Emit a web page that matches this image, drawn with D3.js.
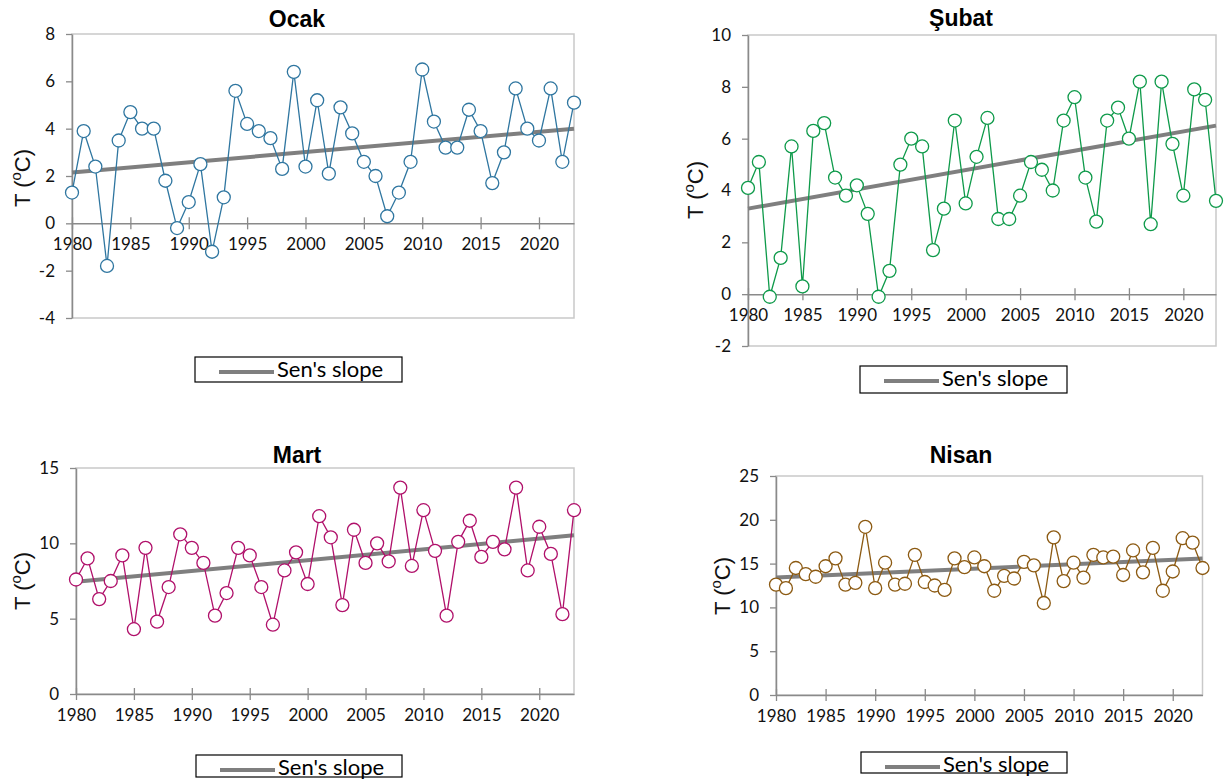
<!DOCTYPE html>
<html>
<head>
<meta charset="utf-8">
<script src="https://cdn.jsdelivr.net/npm/d3@7"></script>
<style>
  html, body { margin: 0; padding: 0; background: #fff; }
  svg { display: block; }
</style>
</head>
<body>
<svg id="chart" width="1231" height="781"></svg>
<script>
// Monthly mean temperature, 1980–2023
const years = d3.range(1980, 2024);
const xTickYears = [1980, 1985, 1990, 1995, 2000, 2005, 2010, 2015, 2020];

const ocak = [1.3, 3.9, 2.4, -1.8, 3.5, 4.7, 4.0, 4.0, 1.8, -0.2,
              0.9, 2.5, -1.2, 1.1, 5.6, 4.2, 3.9, 3.6, 2.3, 6.4,
              2.4, 5.2, 2.1, 4.9, 3.8, 2.6, 2.0, 0.3, 1.3, 2.6,
              6.5, 4.3, 3.2, 3.2, 4.8, 3.9, 1.7, 3.0, 5.7, 4.0,
              3.5, 5.7, 2.6, 5.1];
const subat = [4.1, 5.1, -0.1, 1.4, 5.7, 0.3, 6.3, 6.6, 4.5, 3.8,
               4.2, 3.1, -0.1, 0.9, 5.0, 6.0, 5.7, 1.7, 3.3, 6.7,
               3.5, 5.3, 6.8, 2.9, 2.9, 3.8, 5.1, 4.8, 4.0, 6.7,
               7.6, 4.5, 2.8, 6.7, 7.2, 6.0, 8.2, 2.7, 8.2, 5.8,
               3.8, 7.9, 7.5, 3.6];
const mart = [7.6, 9.0, 6.3, 7.5, 9.2, 4.3, 9.7, 4.8, 7.1, 10.6,
              9.7, 8.7, 5.2, 6.7, 9.7, 9.2, 7.1, 4.6, 8.2, 9.4,
              7.3, 11.8, 10.4, 5.9, 10.9, 8.7, 10.0, 8.8, 13.7, 8.5,
              12.2, 9.5, 5.2, 10.1, 11.5, 9.1, 10.1, 9.6, 13.7, 8.2,
              11.1, 9.3, 5.3, 12.2];
const nisan = [12.6, 12.2, 14.5, 13.8, 13.5, 14.7, 15.6, 12.6, 12.8, 19.2,
               12.2, 15.1, 12.6, 12.7, 16.0, 12.9, 12.5, 12.0, 15.6, 14.6,
               15.7, 14.7, 11.9, 13.6, 13.3, 15.2, 14.8, 10.5, 18.0, 13.0,
               15.1, 13.4, 16.0, 15.7, 15.8, 13.7, 16.5, 14.0, 16.8, 11.9,
               14.1, 17.9, 17.4, 14.5];

// Sen's slope trend: value at 1980 and slope per year
const senIntercept = [2.15, 3.3, 7.45, 13.4];
const senSlope = [0.043, 0.0745, 0.0716, 0.0507];

const titles = ["Ocak", "Şubat", "Mart", "Nisan"];
const seriesColors = ["#2f76a0", "#0e9a4a", "#b0106a", "#8c5a12"];
const yTickLabels = [
  ["-4", "-2", "0", "2", "4", "6", "8"],
  ["-2", "0", "2", "4", "6", "8", "10"],
  ["0", "5", "10", "15"],
  ["0", "5", "10", "15", "20", "25"]
];
const legendLabel = "Sen's slope";

// Panel layout
const panels = [
  { data: ocak, yDomain: [-4, 8], left: 72, right: 574, top: 34, bottom: 318,
    titleX: 297, titleY: 27, yTitleX: 22, yTitleY: 178,
    legend: { x: 195, y: 357, w: 207, h: 25 } },
  { data: subat, yDomain: [-2, 10], left: 748, right: 1216, top: 35, bottom: 346,
    titleX: 961, titleY: 26, yTitleX: 695, yTitleY: 190,
    legend: { x: 860, y: 366, w: 207, h: 27 } },
  { data: mart, yDomain: [0, 15], left: 76, right: 574, top: 468, bottom: 694,
    titleX: 297, titleY: 463, yTitleX: 22, yTitleY: 581,
    legend: { x: 196, y: 755, w: 206, h: 22 } },
  { data: nisan, yDomain: [0, 25], left: 776, right: 1202.5, top: 476, bottom: 695,
    titleX: 961, titleY: 463, yTitleX: 722, yTitleY: 586,
    legend: { x: 861, y: 752, w: 206, h: 21 } }
];

const svg = d3.select("#chart");
svg.append("rect").attr("width", 1231).attr("height", 781).attr("fill", "#fff");

const tickFont = "Lato, 'Open Sans', sans-serif";

panels.forEach((p, i) => {
  const g = svg.append("g");
  const x = d3.scaleLinear().domain([1980, 2023]).range([p.left, p.right]);
  const y = d3.scaleLinear().domain(p.yDomain).range([p.bottom, p.top]);
  const yTickVals = yTickLabels[i].map(Number);

  // plot area frame
  g.append("rect")
    .attr("x", p.left).attr("y", p.top)
    .attr("width", p.right - p.left).attr("height", p.bottom - p.top)
    .attr("fill", "none").attr("stroke", "#c9c9c9").attr("stroke-width", 1.5);

  // y axis
  const yAxis = d3.axisLeft(y)
    .tickValues(yTickVals)
    .tickFormat((d, k) => yTickLabels[i][k])
    .tickSizeInner(6).tickSizeOuter(0).tickPadding(11);
  const ya = g.append("g").attr("transform", `translate(${p.left},0)`).call(yAxis);
  ya.select(".domain").attr("stroke", "#8a8a8a").attr("stroke-width", 1.5);
  ya.selectAll(".tick line").attr("stroke", "#8a8a8a").attr("stroke-width", 1.3);
  ya.selectAll(".tick text").attr("font-family", tickFont).attr("font-size", 17).attr("fill", "#111");

  // x axis at zero, with crossing tick marks
  const y0 = y(0);
  const xAxis = d3.axisBottom(x)
    .tickValues(xTickYears)
    .tickFormat(d3.format("d"))
    .tickSizeInner(0).tickSizeOuter(0).tickPadding(15);
  const xa = g.append("g").attr("transform", `translate(0,${y0})`).call(xAxis);
  xa.select(".domain").attr("stroke", "#8a8a8a").attr("stroke-width", 1.5);
  xa.selectAll(".tick").append("line")
    .attr("y1", -6).attr("y2", 6)
    .attr("stroke", "#8a8a8a").attr("stroke-width", 1.3);
  xa.selectAll(".tick text").attr("font-family", tickFont).attr("font-size", 17).attr("fill", "#111");

  // Sen's slope trend line
  const senLine = [1980, 2023].map(yr => ({ yr, v: senIntercept[i] + senSlope[i] * (yr - 1980) }));
  g.append("path")
    .datum(senLine)
    .attr("d", d3.line().x(d => x(d.yr)).y(d => y(d.v)))
    .attr("fill", "none").attr("stroke", "#7f7f7f").attr("stroke-width", 4);

  // observed series
  const pts = years.map((yr, k) => ({ yr, v: p.data[k] }));
  g.append("path")
    .datum(pts)
    .attr("d", d3.line().x(d => x(d.yr)).y(d => y(d.v)))
    .attr("fill", "none").attr("stroke", seriesColors[i]).attr("stroke-width", 1.3);
  g.selectAll("circle.pt").data(pts).enter().append("circle")
    .attr("class", "pt")
    .attr("cx", d => x(d.yr)).attr("cy", d => y(d.v)).attr("r", 6.5)
    .attr("fill", "#fff").attr("stroke", seriesColors[i]).attr("stroke-width", 1.3);

  // title
  g.append("text")
    .attr("x", p.titleX).attr("y", p.titleY)
    .attr("text-anchor", "middle")
    .attr("font-family", "'Liberation Sans', Arial, sans-serif")
    .attr("font-weight", "bold").attr("font-size", 23)
    .text(titles[i]);

  // y axis title
  const yt = g.append("text")
    .attr("transform", `translate(${p.yTitleX},${p.yTitleY}) rotate(-90)`)
    .attr("text-anchor", "middle").attr("dominant-baseline", "central")
    .attr("font-family", "'Liberation Sans', Arial, sans-serif")
    .attr("font-size", 22).attr("fill", "#111");
  yt.append("tspan").text("T (");
  yt.append("tspan").attr("font-size", 15).attr("dy", -7).text("o");
  yt.append("tspan").attr("dy", 7).text("C)");

  // legend
  const L = p.legend;
  const lg = g.append("g");
  lg.append("rect")
    .attr("x", L.x).attr("y", L.y).attr("width", L.w).attr("height", L.h)
    .attr("fill", "#fff").attr("stroke", "#000").attr("stroke-width", 1.2);
  lg.append("line")
    .attr("x1", L.x + 24).attr("x2", L.x + 79)
    .attr("y1", L.y + 15).attr("y2", L.y + 15)
    .attr("stroke", "#7f7f7f").attr("stroke-width", 4);
  lg.append("text")
    .attr("x", L.x + 82).attr("y", L.y + 20)
    .attr("font-family", tickFont).attr("font-size", 22).attr("fill", "#000")
    .text(legendLabel);
});
</script>
</body>
</html>
